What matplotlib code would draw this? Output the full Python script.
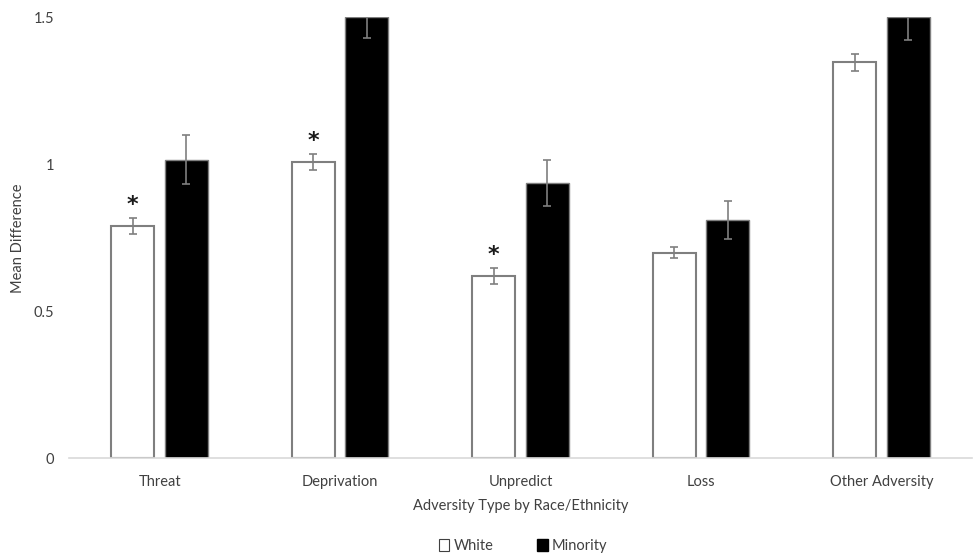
import numpy as np
import matplotlib
matplotlib.use('Agg')
import matplotlib.pyplot as plt
from matplotlib.patches import Patch

# data
categories = ['Threat', 'Deprivation', 'Unpredict', 'Loss', 'Other Adversity']
white_mean = [0.79, 1.008, 0.619, 0.70, 1.347]
white_err = [0.028, 0.027, 0.027, 0.02, 0.029]
minority_mean = [1.015, 1.50, 0.935, 0.811, 1.50]
minority_err = [0.083, 0.07, 0.078, 0.065, 0.078]
significant = [True, True, True, False, False]

plt.rcParams['font.family'] = ['Lato', 'DejaVu Sans']

fig = plt.figure(figsize=(9.78, 5.54), dpi=100)
ax = fig.add_axes([0.0709, 0.1727, 0.9227, 0.7961])

x = np.arange(len(categories))
width = 0.237
offset = 0.148
edge = '#7f7f7f'
err_kw = dict(ecolor='#7f7f7f', elinewidth=1.2, capsize=3, capthick=1.2)

ax.bar(x - offset, white_mean, width, yerr=white_err, color='white',
       edgecolor=edge, linewidth=1.5, error_kw=err_kw, zorder=2)
ax.bar(x + offset, minority_mean, width, yerr=minority_err, color='black',
       edgecolor=edge, linewidth=1.0, error_kw=err_kw, zorder=2)

# significance stars above the white bars
for i, sig in enumerate(significant):
    if sig:
        ax.text(x[i] - offset, white_mean[i] + white_err[i] + 0.045, '*',
                ha='center', va='center', fontsize=16, fontweight='bold',
                family='DejaVu Sans', color='#1a1a1a')

ax.set_xlim(-0.5, len(categories) - 0.5)
ax.set_ylim(0, 1.5)
ax.set_yticks([0, 0.5, 1, 1.5])
ax.set_yticklabels(['0', '0.5', '1', '1.5'])
ax.set_xticks(x)
ax.set_xticklabels(categories)
ax.tick_params(axis='x', length=0, labelsize=10.5, colors='#404040', pad=12)
ax.tick_params(axis='y', length=0, labelsize=10.5, colors='#404040', pad=11)

for side in ['top', 'right', 'left']:
    ax.spines[side].set_visible(False)
ax.spines['bottom'].set_color('#d9d9d9')
ax.spines['bottom'].set_linewidth(1.2)

ax.set_xlabel('Adversity Type by Race/Ethnicity', fontsize=10.5, color='#404040', labelpad=7)
ax.set_ylabel('Mean Difference', fontsize=10.5, color='#404040', labelpad=6)

handles = [Patch(facecolor='white', edgecolor='#404040', linewidth=0.8, label='White'),
           Patch(facecolor='black', edgecolor='black', label='Minority')]
fig.legend(handles=handles, loc='lower center', bbox_to_anchor=(0.535, -0.022), ncol=2,
           frameon=False, fontsize=10.5, handlelength=0.7, handleheight=0.9,
           handletextpad=0.3, columnspacing=3.0, labelcolor='#404040')

fig.savefig('out.png', dpi=100)
